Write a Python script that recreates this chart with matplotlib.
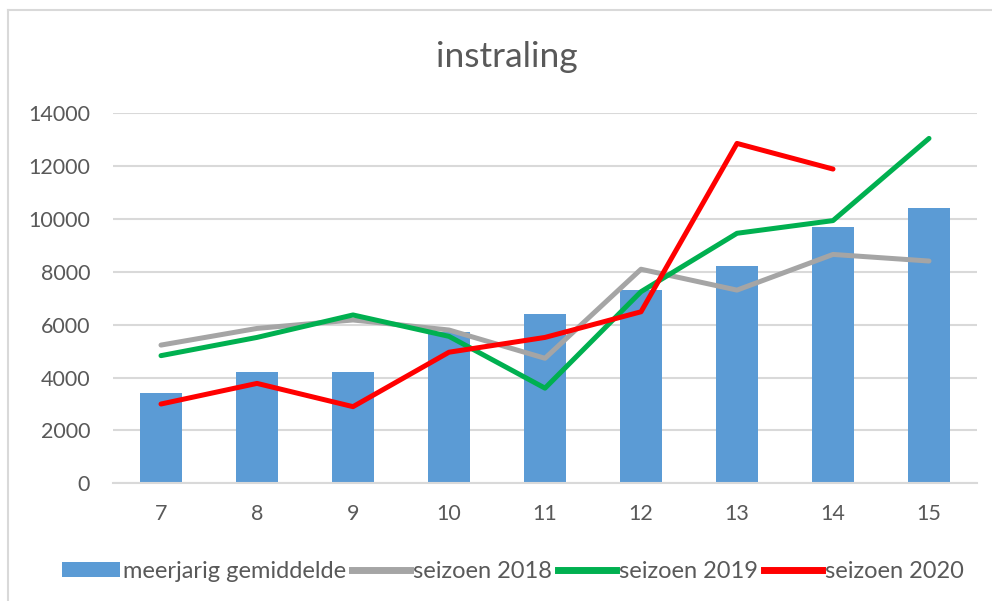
import matplotlib
matplotlib.use("Agg")
import matplotlib.pyplot as plt
from matplotlib.lines import Line2D
from matplotlib.patches import Patch
import numpy as np

plt.rcParams['font.family'] = ['Lato', 'DejaVu Sans']

categories = ['7', '8', '9', '10', '11', '12', '13', '14', '15']
gemiddelde = [3430, 4220, 4220, 5710, 6420, 7320, 8230, 9700, 10400]
seizoen_2018 = [5230, 5860, 6180, 5800, 4730, 8100, 7310, 8660, 8410]
seizoen_2019 = [4830, 5520, 6370, 5560, 3600, 7250, 9460, 9940, 13050]
seizoen_2020 = [3000, 3780, 2900, 4960, 5520, 6490, 12860, 11890]
y_ticks = [0, 2000, 4000, 6000, 8000, 10000, 12000, 14000]

TXT = '#595959'
GRID = '#d9d9d9'

fig = plt.figure(figsize=(9.92, 6.01), dpi=100)
ax = fig.add_axes([113/992, 1-483.3/601, 864/992, 370/601])

x = np.arange(len(categories))
ax.bar(x, gemiddelde, width=0.43, color='#5b9bd5', zorder=2)
ax.plot(np.arange(len(seizoen_2018)), seizoen_2018, color='#a5a5a5', lw=3.6, zorder=3,
        solid_joinstyle='round', solid_capstyle='round')
ax.plot(np.arange(len(seizoen_2019)), seizoen_2019, color='#00b050', lw=3.6, zorder=4,
        solid_joinstyle='round', solid_capstyle='round')
ax.plot(np.arange(len(seizoen_2020)), seizoen_2020, color='#ff0000', lw=3.6, zorder=5,
        solid_joinstyle='round', solid_capstyle='round')

ax.set_xlim(-0.5, len(categories) - 0.5)
ax.set_ylim(0, 14000)
ax.set_yticks(y_ticks)
ax.set_yticklabels([str(v) for v in y_ticks])
ax.set_xticks(x)
ax.set_xticklabels(categories)
ax.tick_params(axis='both', length=0, labelsize=15.5, colors=TXT)
ax.tick_params(axis='y', pad=16.5)
ax.tick_params(axis='x', pad=15)
ax.grid(axis='y', color=GRID, lw=1.5, zorder=0)
ax.set_axisbelow(True)
for s in ['top', 'right', 'left']:
    ax.spines[s].set_visible(False)
ax.spines['bottom'].set_color(GRID)
ax.spines['bottom'].set_linewidth(1.5)

fig.text(507/992, 1-57/601, 'instraling', ha='center', va='center', fontsize=25.5, color=TXT)

handles = [Patch(facecolor='#5b9bd5', edgecolor='none'),
           Line2D([], [], color='#a5a5a5', lw=5),
           Line2D([], [], color='#00b050', lw=5),
           Line2D([], [], color='#ff0000', lw=5)]
labels = ['meerjarig gemiddelde', 'seizoen 2018', 'seizoen 2019', 'seizoen 2020']
leg = fig.legend(handles, labels, loc='center', bbox_to_anchor=(513/992, 1-571/601),
                 ncol=4, frameon=False, fontsize=17, handlelength=2.45, handleheight=0.6,
                 handletextpad=0.13, columnspacing=0.25, labelcolor=TXT)

# chart-area border
fig.add_artist(Line2D([8/992, 1], [1-10/601, 1-10/601], color=GRID, lw=1.5))
fig.add_artist(Line2D([8/992, 8/992], [0, 1-10/601], color=GRID, lw=1.5))

fig.savefig('out.png', dpi=100, facecolor='white')
